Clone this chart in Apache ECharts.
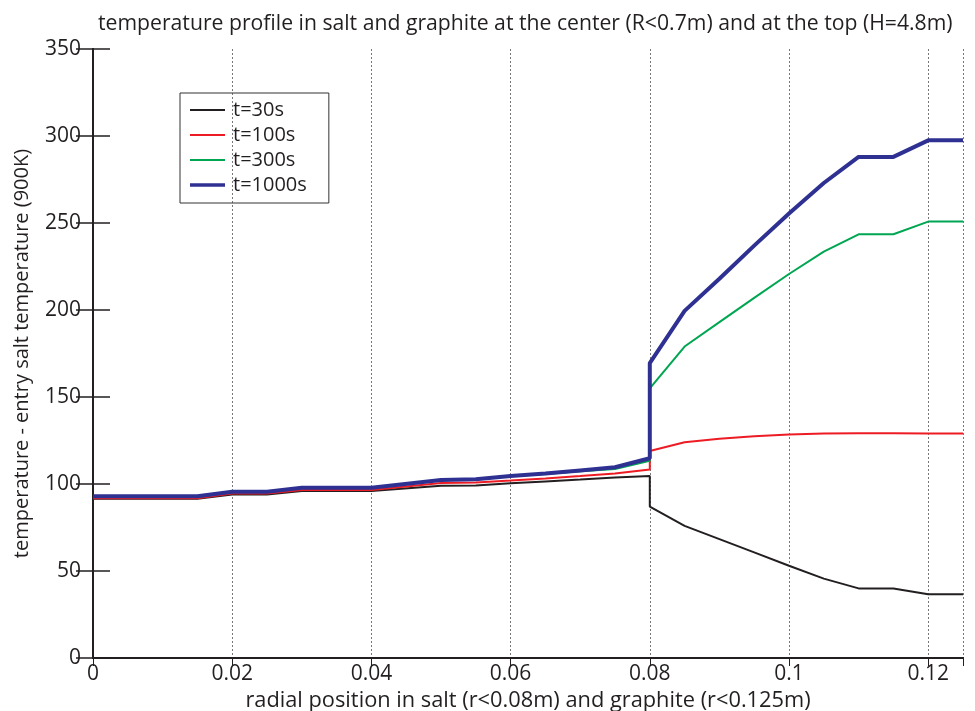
<!DOCTYPE html>
<html>
<head>
<meta charset="utf-8">
<script src="https://cdn.jsdelivr.net/npm/echarts@6/dist/echarts.min.js"></script>
<style>
html,body{margin:0;padding:0;background:#fff;}
#chart{width:975px;height:711px;}
</style>
</head>
<body>
<div id="chart"></div>
<script>
// radial positions (m); 0.08 appears twice for the salt/graphite jump
const radius = [0, 0.015, 0.02, 0.025, 0.03, 0.04, 0.05, 0.055, 0.06, 0.065, 0.07, 0.075, 0.08,
                0.08, 0.085, 0.09, 0.095, 0.1, 0.105, 0.11, 0.115, 0.12, 0.125];
const seriesNames = ['t=30s', 't=100s', 't=300s', 't=1000s'];
const t30   = [91.5, 91.5, 94.0, 94.0, 96.0, 96.0, 99.0, 99.2, 100.4, 101.5, 102.6, 103.8, 104.6,
               87.0, 75.9, 68.3, 60.7, 53.0, 45.6, 40.0, 40.0, 36.6, 36.6];
const t100  = [91.8, 91.8, 94.6, 94.6, 96.6, 96.6, 100.6, 100.9, 102.0, 103.2, 104.6, 106.1, 108.4,
               119.0, 124.0, 126.0, 127.5, 128.5, 129.0, 129.1, 129.1, 129.0, 129.0];
const t300  = [92.7, 92.7, 95.6, 95.6, 97.9, 97.9, 102.2, 102.6, 104.4, 105.8, 107.3, 108.6, 113.4,
               155.0, 179.0, 193.0, 207.0, 220.7, 233.5, 243.5, 243.5, 250.8, 250.8];
const t1000 = [92.9, 92.9, 95.6, 95.6, 97.9, 97.9, 102.3, 102.7, 104.6, 106.0, 107.8, 109.6, 114.8,
               169.5, 199.5, 218.0, 237.0, 255.5, 273.0, 288.0, 288.0, 297.5, 297.5];
const xTicks = [0, 0.02, 0.04, 0.06, 0.08, 0.1, 0.12];
const yTicks = [0, 50, 100, 150, 200, 250, 300, 350];

const values = [t30, t100, t300, t1000];
const colors = ['#231f20', '#ed1c24', '#00a651', '#2e3192'];
const widths = [2, 2, 2, 4];
const font = 'Open Sans';
const textColor = '#231f20';

const series = values.map((v, i) => ({
  name: seriesNames[i],
  type: 'line',
  data: radius.map((r, j) => [r, v[j]]),
  showSymbol: false,
  symbol: 'none',
  lineStyle: { color: colors[i], width: widths[i] },
  itemStyle: { color: colors[i] },
  z: 2 + i
}));

const legendData = seriesNames.map((n, i) => ({
  name: n,
  icon: 'path://M0,0L35,0L35,' + (i === 3 ? 3.6 : 2) + 'L0,' + (i === 3 ? 3.6 : 2) + 'Z',
  itemStyle: { color: colors[i], borderWidth: 0 }
}));

const chart = echarts.init(document.getElementById('chart'), null, { renderer: 'canvas' });
chart.setOption({
  animation: false,
  backgroundColor: '#fff',
  title: {
    text: 'temperature profile in salt and graphite at the center (R<0.7m) and at the top (H=4.8m)',
    left: 93, top: 8,
    textStyle: { fontFamily: font, fontSize: 21.2, fontWeight: 'normal', color: textColor }
  },
  legend: {
    orient: 'vertical',
    left: 180, top: 93,
    data: legendData,
    itemWidth: 35, itemHeight: 14, itemGap: 5,
    padding: [7, 22, 8, 10],
    borderColor: '#333', borderWidth: 1,
    textStyle: { fontFamily: font, fontSize: 20, color: textColor, padding: [0, 0, 0, 3] }
  },
  grid: { left: 93, right: 12, top: 49, bottom: 53, containLabel: false, outerBoundsMode: 'none' },
  xAxis: [{
    type: 'value', min: 0, max: 0.125, interval: 0.02,
    name: 'radial position in salt (r<0.08m) and graphite (r<0.125m)',
    nameLocation: 'middle', nameGap: 26,
    nameTextStyle: { fontFamily: font, fontSize: 21.8, color: textColor },
    axisLine: { show: true, lineStyle: { color: '#231f20', width: 2 } },
    axisTick: { show: true, inside: true, length: 0 },
    axisLabel: { fontFamily: font, fontSize: 21, color: textColor, margin: 6,
      formatter: v => String(Math.round(v * 1000) / 1000) },
    splitLine: { show: true, lineStyle: { color: '#777', width: 1, type: [2, 2] } }
  }, {
    type: 'value', min: 0, max: 0.125, interval: 0.02, position: 'top',
    axisLine: { show: true, lineStyle: { color: '#231f20', width: 2 } },
    axisTick: { show: true, inside: true, length: 8, lineStyle: { color: '#231f20' } },
    axisLabel: { show: false }, splitLine: { show: false }
  }],
  yAxis: [{
    type: 'value', min: 0, max: 350, interval: 50,
    name: 'temperature - entry salt temperature (900K)',
    nameLocation: 'middle', nameGap: 61,
    nameTextStyle: { fontFamily: font, fontSize: 20, color: textColor },
    axisLine: { show: true, lineStyle: { color: '#231f20', width: 2 } },
    axisTick: { show: true, inside: true, length: 17, lineStyle: { color: '#231f20', width: 1.5 } },
    axisLabel: { fontFamily: font, fontSize: 21, color: textColor, margin: 12 },
    splitLine: { show: false }
  }, {
    type: 'value', min: 0, max: 350, interval: 50, position: 'right',
    axisLine: { show: true, lineStyle: { color: '#231f20', width: 2 } },
    axisTick: { show: true, inside: true, length: 17, lineStyle: { color: '#231f20', width: 1.5 } },
    axisLabel: { show: false }, splitLine: { show: false }
  }],
  series: series
});
</script>
</body>
</html>
